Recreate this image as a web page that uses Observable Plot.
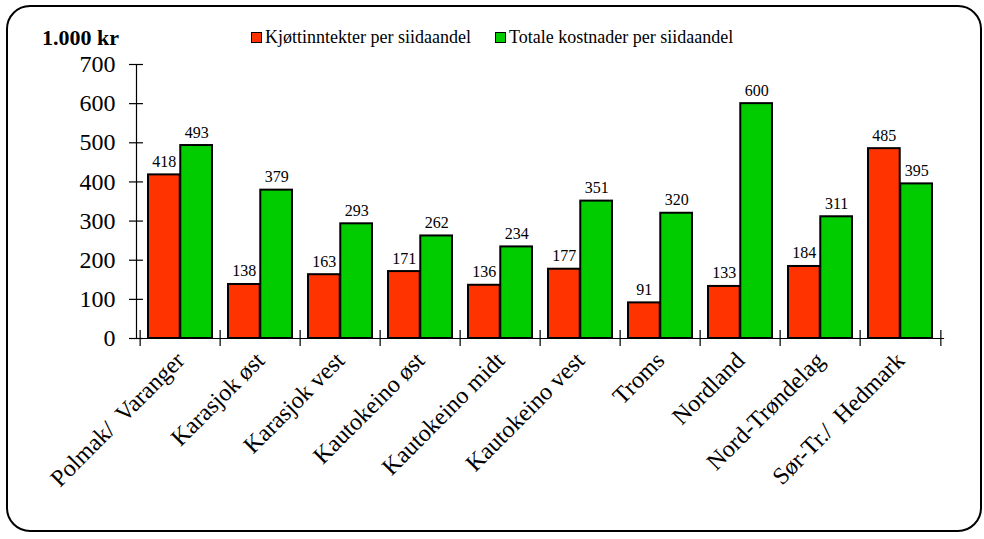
<!DOCTYPE html>
<html><head><meta charset="utf-8">
<script src="https://cdn.jsdelivr.net/npm/d3@7"></script>
<script src="https://cdn.jsdelivr.net/npm/@observablehq/plot@0.6"></script>
<style>
html,body{margin:0;padding:0;background:#fff;font-family:"Liberation Serif","Times New Roman",serif;color:#000;}
#wrap{position:relative;width:984px;height:539px;overflow:hidden;}
#frame{position:absolute;left:6px;top:5px;width:976px;height:527px;border:2px solid #000;border-radius:24px;box-sizing:border-box;pointer-events:none;}
#title{position:absolute;left:42px;top:26px;font-size:22px;font-weight:bold;line-height:24px;}
.leg{position:absolute;top:27px;font-size:18px;line-height:20px;white-space:nowrap;}
.sw{display:inline-block;width:9px;height:9px;border:1.5px solid #000;margin-right:3px;vertical-align:0px;}
#chart{position:absolute;left:0;top:50px;}
#chart svg, #chart svg text{font-family:"Liberation Serif","Times New Roman",serif !important;}
</style></head>
<body><div id="wrap">
<div id="title">1.000 kr</div>
<div class="leg" id="leg1" style="left:251px"></div>
<div class="leg" id="leg2" style="left:495px"></div>
<div id="chart"></div>
<div id="frame"></div>
</div>
<script>
const regions = ["Polmak/\u00a0 Varanger","Karasjok øst","Karasjok vest","Kautokeino øst","Kautokeino midt","Kautokeino vest","Troms","Nordland","Nord-Trøndelag","Sør-Tr./\u00a0 Hedmark"];
const meatIncome = [418,138,163,171,136,177,91,133,184,485];
const totalCosts = [493,379,293,262,234,351,320,600,311,395];
const seriesNames = ["Kjøttinntekter per siidaandel","Totale kostnader per siidaandel"];
const seriesColors = ["#ff3300","#00cc00"];
const yTicks = [0,100,200,300,400,500,600,700];

document.getElementById("leg1").innerHTML = `<span class="sw" style="background:${seriesColors[0]}"></span>${seriesNames[0]}`;
document.getElementById("leg2").innerHTML = `<span class="sw" style="background:${seriesColors[1]}"></span>${seriesNames[1]}`;

const rows = regions.map((r,i)=>({region:r, meat:meatIncome[i], cost:totalCosts[i]}));

const W = 984, H = 489, mL = 136, mR = 41, mT = 14, mB = 201;
const pIn = 0.2, pOut = 0.1;
const step = (W - mL - mR) / (regions.length - pIn + 2*pOut);
const bw = step * (1 - pIn);
const half = bw / 2;
const serif = '"Liberation Serif","Times New Roman",serif';

const chart = Plot.plot({
  width: W, height: H,
  marginLeft: mL, marginRight: mR, marginTop: mT, marginBottom: mB,
  style: {fontFamily: serif, color: "#000", background: "transparent"},
  x: {domain: regions, paddingInner: pIn, paddingOuter: pOut, align: 0.5},
  y: {domain: [0,700]},
  marks: [
    Plot.barY(rows, {x:"region", y:"meat", fill: seriesColors[0], stroke:"#000", strokeWidth:2, insetRight: half}),
    Plot.barY(rows, {x:"region", y:"cost", fill: seriesColors[1], stroke:"#000", strokeWidth:2, insetLeft: half}),
    Plot.text(rows, {x:"region", y:"meat", text:"meat", dx:-half/2, dy:-8, lineAnchor:"bottom", fontSize:16, fontFamily: serif}),
    Plot.text(rows, {x:"region", y:"cost", text:"cost", dx:half/2, dy:-8, lineAnchor:"bottom", fontSize:16, fontFamily: serif}),
    Plot.frame({anchor:"left", stroke:"#000", strokeWidth:1.2}),
    Plot.frame({anchor:"bottom", stroke:"#000", strokeWidth:1.2}),
    Plot.axisY({ticks: yTicks, tickSize: 7, tickPadding: 14, fontSize: 24, fontFamily: serif, label: null, strokeWidth: 1.2}),
    Plot.axisY({ticks: yTicks, tickSize: 7, dx: 7, tickFormat: () => "", label: null, strokeWidth: 1.2}),
    Plot.axisX({tickSize: 16, dy: -8, dx: -step/2, tickFormat: () => "", label: null, strokeWidth: 1.2}),
    Plot.axisX({ticks: [regions[regions.length-1]], tickSize: 16, dy: -8, dx: step/2, tickFormat: () => "", label: null, strokeWidth: 1.2}),
    Plot.axisX({tickSize: 0, tickPadding: 18, tickRotate: -45, fontSize: 24, fontFamily: serif, label: null})
  ]
});
document.getElementById("chart").appendChild(chart);
</script>
</body></html>
